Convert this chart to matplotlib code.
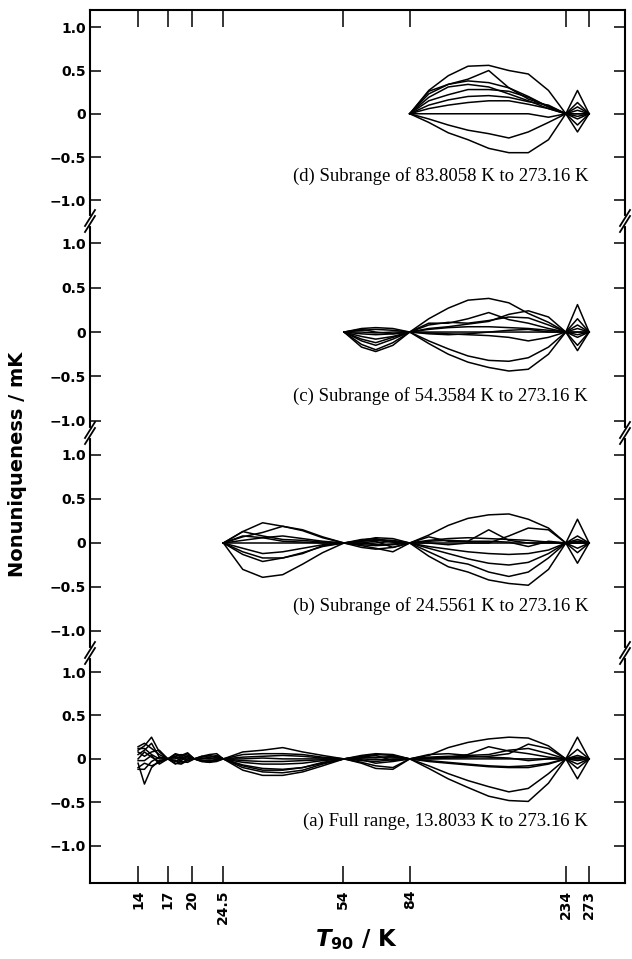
import matplotlib
matplotlib.use('Agg')
import matplotlib.pyplot as plt
from matplotlib.lines import Line2D
from matplotlib.ticker import NullLocator
import matplotlib.transforms as mtransforms

plt.rcParams['font.family'] = 'DejaVu Sans'
plt.rcParams['font.weight'] = 'bold'
plt.rcParams['mathtext.fontset'] = 'custom'
plt.rcParams['mathtext.it'] = 'DejaVu Sans:italic:bold'
plt.rcParams['mathtext.rm'] = 'DejaVu Sans:bold'

# x axis ticks (K)
x_ticks = [14, 17, 20, 24.5, 54, 84, 234, 273]
x_labels = ['14', '17', '20', '24.5', '54', '84', '234', '273']
y_ticks = [-1.0, -0.5, 0, 0.5, 1.0]
y_labels = ['\u22121.0', '\u22120.5', '0', '0.5', '1.0']

# (d) subrange 83.8058 K to 273.16 K
t_d = [83.8058, 95, 108, 123, 141, 161, 183, 209, 234.3156, 253, 273.16]
d_curves = [
    [0, 0.27, 0.44, 0.55, 0.56, 0.50, 0.46, 0.27, 0, 0.27, 0],
    [0, 0.23, 0.34, 0.40, 0.50, 0.30, 0.17, 0.09, 0, 0.13, 0],
    [0, 0.26, 0.34, 0.38, 0.36, 0.30, 0.20, 0.08, 0, 0.08, 0],
    [0, 0.15, 0.22, 0.28, 0.28, 0.26, 0.19, 0.08, 0, 0.0, 0],
    [0, 0.10, 0.16, 0.20, 0.21, 0.19, 0.14, 0.10, 0, -0.06, 0],
    [0, 0.06, 0.10, 0.13, 0.15, 0.15, 0.11, 0.06, 0, -0.13, 0],
    [0, 0.19, 0.31, 0.34, 0.31, 0.23, 0.15, 0.06, 0, -0.21, 0],
    [0, 0.0, 0.0, 0.0, 0.0, 0.0, 0.0, -0.04, 0, 0.04, 0],
    [0, -0.06, -0.13, -0.19, -0.23, -0.28, -0.21, -0.10, 0, -0.03, 0],
    [0, -0.10, -0.22, -0.30, -0.40, -0.45, -0.45, -0.30, 0, 0.0, 0],
]

# (c) subrange 54.3584 K to 273.16 K
t_c = [54.3584, 61, 67, 75, 83.8058, 95, 108, 123, 141, 161, 183, 209, 234.3156, 253, 273.16]
c_curves = [
    [0, 0.04, 0.05, 0.04, 0, 0.15, 0.27, 0.36, 0.38, 0.33, 0.21, 0.11, 0, 0.31, 0],
    [0, 0.02, 0.03, 0.02, 0, 0.10, 0.10, 0.15, 0.22, 0.14, 0.10, 0.04, 0, 0.15, 0],
    [0, -0.02, -0.03, -0.02, 0, 0.04, 0.06, 0.09, 0.12, 0.20, 0.24, 0.17, 0, 0.08, 0],
    [0, -0.05, -0.08, -0.05, 0, 0.08, 0.11, 0.10, 0.13, 0.17, 0.16, 0.08, 0, 0.0, 0],
    [0, -0.08, -0.12, -0.06, 0, 0.03, 0.05, 0.06, 0.06, 0.05, 0.04, 0.02, 0, -0.06, 0],
    [0, -0.10, -0.15, -0.08, 0, -0.02, -0.03, -0.02, 0.0, 0.02, 0.03, 0.0, 0, -0.15, 0],
    [0, -0.14, -0.20, -0.12, 0, -0.01, -0.02, -0.03, -0.04, -0.06, -0.10, -0.06, 0, -0.21, 0],
    [0, -0.17, -0.22, -0.15, 0, -0.10, -0.19, -0.27, -0.32, -0.33, -0.29, -0.17, 0, 0.04, 0],
    [0, 0.0, -0.01, 0.0, 0, -0.13, -0.25, -0.34, -0.40, -0.44, -0.42, -0.25, 0, -0.03, 0],
    [0, 0.03, 0.0, -0.02, 0, 0.0, 0.0, 0.0, 0.0, 0.0, 0.0, 0.0, 0, 0.0, 0],
]

# (b) subrange 24.5561 K to 273.16 K
t_b = [24.5561, 27.9, 31.8, 36.3, 41.4, 47.2, 54.3584, 61, 67, 75, 83.8058,
       95, 108, 123, 141, 161, 183, 209, 234.3156, 253, 273.16]
b_curves = [
    [0, 0.13, 0.23, 0.19, 0.14, 0.06, 0, 0.03, 0.06, 0.05, 0, 0.09, 0.20, 0.28, 0.32, 0.33, 0.27, 0.17, 0, 0.27, 0],
    [0, 0.07, 0.12, 0.19, 0.15, 0.07, 0, 0.02, 0.04, 0.03, 0, 0.07, 0.02, 0.02, 0.15, 0.03, 0.0, 0.0, 0, 0.08, 0],
    [0, 0.13, 0.08, 0.04, 0.03, 0.01, 0, -0.02, -0.03, -0.02, 0, 0.0, -0.02, 0.0, 0.0, 0.08, 0.17, 0.15, 0, -0.06, 0],
    [0, 0.08, 0.06, 0.02, 0.01, 0.0, 0, -0.03, -0.06, -0.10, 0, 0.02, 0.03, 0.02, 0.02, 0.01, -0.04, 0.02, 0, -0.11, 0],
    [0, 0.0, 0.0, 0.0, 0.0, 0.0, 0, 0.0, 0.02, -0.05, 0, 0.0, 0.0, 0.0, 0.0, 0.0, 0.0, 0.0, 0, -0.23, 0],
    [0, -0.06, -0.12, -0.10, -0.06, -0.02, 0, -0.05, -0.07, -0.05, 0, -0.04, -0.07, -0.10, -0.12, -0.13, -0.12, -0.08, 0, 0.02, 0],
    [0, -0.10, -0.17, -0.17, -0.11, -0.04, 0, 0.02, 0.03, 0.01, 0, -0.06, -0.12, -0.18, -0.23, -0.25, -0.22, -0.12, 0, 0.0, 0],
    [0, -0.13, -0.21, -0.17, -0.12, -0.03, 0, -0.01, 0.0, 0.02, 0, -0.10, -0.20, -0.24, -0.33, -0.38, -0.33, -0.17, 0, 0.0, 0],
    [0, -0.30, -0.39, -0.36, -0.24, -0.11, 0, 0.0, -0.02, -0.01, 0, -0.15, -0.27, -0.33, -0.42, -0.46, -0.48, -0.30, 0, 0.04, 0],
    [0, 0.03, 0.06, 0.08, 0.05, 0.02, 0, 0.04, 0.05, 0.01, 0, 0.03, 0.05, 0.06, 0.05, 0.04, 0.03, 0.01, 0, 0.0, 0],
]

# (a) full range 13.8033 K to 273.16 K
t_a = [14.0, 14.6, 15.3, 16.1, 17.0357, 17.9, 18.6, 19.4, 20.2771, 21.3, 22.4, 23.5, 24.5561,
       27.9, 31.8, 36.3, 41.4, 47.2, 54.3584, 61, 67, 75, 83.8058,
       95, 108, 123, 141, 161, 183, 209, 234.3156, 253, 273.16]
a_curves = [
    [0.10, 0.15, 0.25, 0.08, 0, 0.05, 0.02, 0.06, 0, 0.03, 0.05, 0.06, 0, 0.08, 0.10, 0.13, 0.08, 0.04, 0, 0.04, 0.06, 0.05, 0, 0.04, 0.13, 0.19, 0.23, 0.25, 0.24, 0.15, 0, 0.25, 0],
    [-0.05, -0.29, -0.10, -0.02, 0, -0.05, -0.06, -0.02, 0, -0.03, -0.04, -0.03, 0, 0.05, 0.06, 0.06, 0.05, 0.02, 0, 0.03, 0.05, 0.04, 0, 0.0, 0.01, 0.02, 0.03, 0.06, 0.17, 0.12, 0, 0.11, 0],
    [0.14, 0.18, 0.12, 0.05, 0, 0.03, 0.05, 0.02, 0, 0.02, 0.04, 0.02, 0, 0.02, 0.03, 0.04, 0.03, 0.01, 0, 0.01, 0.02, 0.02, 0, 0.01, 0.02, 0.05, 0.14, 0.09, 0.06, 0.02, 0, 0.04, 0],
    [0.05, 0.10, 0.18, 0.02, 0, -0.03, 0.0, 0.04, 0, -0.02, -0.02, -0.01, 0, -0.02, -0.03, -0.03, -0.02, -0.01, 0, -0.02, -0.03, -0.01, 0, 0.05, 0.06, 0.04, 0.05, 0.10, 0.12, 0.06, 0, -0.06, 0],
    [-0.10, -0.05, -0.08, -0.04, 0, 0.02, -0.03, -0.04, 0, 0.0, 0.0, 0.0, 0, -0.04, -0.06, -0.06, -0.05, -0.02, 0, -0.04, -0.08, -0.10, 0, 0.0, 0.0, 0.0, 0.0, 0.0, 0.0, 0.0, 0, 0.0, 0],
    [0.0, 0.08, 0.02, -0.03, 0, 0.06, 0.04, 0.07, 0, 0.03, 0.02, 0.04, 0, -0.07, -0.11, -0.12, -0.10, -0.05, 0, -0.05, -0.11, -0.12, 0, -0.03, -0.05, -0.07, -0.09, -0.10, -0.10, -0.06, 0, -0.11, 0],
    [-0.12, -0.12, -0.03, 0.02, 0, -0.02, -0.05, 0.0, 0, -0.03, -0.03, -0.02, 0, -0.10, -0.15, -0.16, -0.13, -0.06, 0, 0.0, -0.01, 0.0, 0, -0.02, -0.04, -0.06, -0.08, -0.09, -0.08, -0.05, 0, -0.23, 0],
    [0.08, 0.03, 0.08, 0.10, 0, 0.0, 0.02, -0.02, 0, 0.0, 0.02, 0.03, 0, -0.13, -0.19, -0.19, -0.15, -0.08, 0, 0.02, 0.04, -0.02, 0, -0.11, -0.23, -0.33, -0.43, -0.48, -0.49, -0.28, 0, 0.0, 0],
    [0.12, 0.12, 0.05, 0.0, 0, -0.06, -0.02, 0.03, 0, -0.02, -0.04, 0.0, 0, -0.08, -0.13, -0.13, -0.10, -0.04, 0, -0.01, -0.05, -0.03, 0, -0.08, -0.17, -0.25, -0.32, -0.38, -0.34, -0.17, 0, 0.02, 0],
    [-0.02, -0.02, 0.04, -0.06, 0, 0.03, 0.0, 0.0, 0, 0.01, 0.0, 0.02, 0, 0.0, 0.01, 0.0, 0.0, 0.0, 0, 0.02, 0.01, 0.03, 0, 0.02, 0.03, 0.03, 0.02, 0.01, -0.02, 0.0, 0, -0.02, 0],
]

captions = ['(d) Subrange of 83.8058 K to 273.16 K',
            '(c) Subrange of 54.3584 K to 273.16 K',
            '(b) Subrange of 24.5561 K to 273.16 K',
            '(a) Full range, 13.8033 K to 273.16 K']

W, H = 632, 959
fig = plt.figure(figsize=(W / 100, H / 100), dpi=100)
gs = fig.add_gridspec(4, 1, left=90 / W, right=625 / W, top=1 - 10 / H, bottom=1 - 883 / H,
                      hspace=0, height_ratios=[211, 212, 220, 230])
ylims = [(-1.24, 1.20), (-1.14, 1.254), (-1.25, 1.25), (-1.43, 1.22)]
data = [(t_d, d_curves), (t_c, c_curves), (t_b, b_curves), (t_a, a_curves)]

axes = []
for i in range(4):
    ax = fig.add_subplot(gs[i], sharex=axes[0] if axes else None)
    axes.append(ax)
    t, curves = data[i]
    for c in curves:
        ax.plot(t, c, color='black', lw=1.1)
    ax.set_xscale('log')
    ax.set_xlim(10.2, 346)
    ax.set_ylim(*ylims[i])
    ax.set_yticks(y_ticks)
    ax.set_yticklabels(y_labels)
    ax.tick_params(axis='y', direction='in', left=True, right=True, length=8, width=1.1,
                   labelsize=10, pad=3)
    for s in ax.spines.values():
        s.set_linewidth(1.5)
    if i > 0:
        ax.spines['top'].set_visible(False)
    if i < 3:
        ax.spines['bottom'].set_visible(False)
    trans = mtransforms.blended_transform_factory(ax.transAxes, ax.transData)
    ax.text(0.931, -0.72, captions[i], transform=trans, ha='right', va='center',
            fontsize=13.5, family='Liberation Serif', fontweight='normal')

axes[0].set_xticks(x_ticks)
axes[0].set_xticklabels(x_labels)
axes[0].xaxis.set_minor_locator(NullLocator())
for i, ax in enumerate(axes):
    ax.tick_params(axis='x', which='both', direction='in', length=12, width=1.1,
                   top=(i == 0), bottom=(i == 3), labeltop=False, labelbottom=(i == 3),
                   labelsize=10, pad=5, labelrotation=90)

# axis break marks on both spines
for ax in axes[1:]:
    pos = ax.get_position()
    yb = pos.y1
    for xs in (pos.x0, pos.x1):
        fig.add_artist(Line2D([xs, xs], [yb - 3 / H, yb + 3 / H], color='white', lw=3,
                              transform=fig.transFigure))
        for off in (-3, 3):
            fig.add_artist(Line2D([xs - 5 / W, xs + 5 / W],
                                  [yb + (off - 8) / H, yb + (off + 8) / H],
                                  color='black', lw=1.3, transform=fig.transFigure))

fig.text(18 / W, 1 - 464 / H, 'Nonuniqueness / mK', rotation=90, ha='center', va='center',
         fontsize=14, fontweight='bold')
fig.text(357 / W, 1 - 940 / H, r'$T_{90}$ / K', ha='center', va='center',
         fontsize=16.5, fontweight='bold')

fig.savefig('out.png', dpi=100)
